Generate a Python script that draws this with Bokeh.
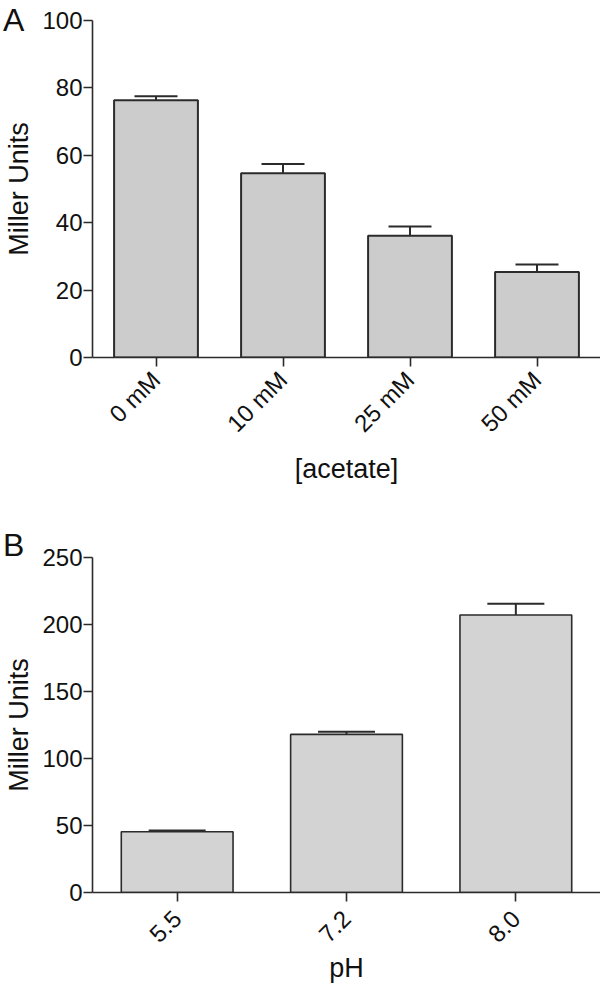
import math
from bokeh.plotting import figure
from bokeh.models import (Range1d, FactorRange, Whisker, TeeHead, ColumnDataSource,
                          FixedTicker, Div)
from bokeh.layouts import column
from bokeh.embed import file_html
from bokeh.resources import INLINE

# ---- data ----
acetate = ["0 mM", "10 mM", "25 mM", "50 mM"]
acetate_mean = [76.3, 54.7, 36.1, 25.4]
acetate_upper = [77.5, 57.4, 38.9, 27.6]
acetate_ticks = [0, 20, 40, 60, 80, 100]

ph = ["5.5", "7.2", "8.0"]
ph_mean = [45.3, 118.0, 207.1]
ph_upper = [46.3, 120.0, 215.5]
ph_ticks = [0, 50, 100, 150, 200, 250]

FONT = "Liberation Sans"
DARK = "#2b2b2b"


def panel(cats, means, uppers, ticks, xlabel, height, top, bottom,
          fill, cap_px, lw, tick_standoff, label_standoff):
    src = ColumnDataSource(dict(x=cats, mean=means, upper=uppers))
    p = figure(width=600, height=height, x_range=FactorRange(factors=cats),
               y_range=Range1d(ticks[0], ticks[-1]), output_backend="svg",
               toolbar_location=None, min_border_left=92, min_border_right=0,
               min_border_top=top, min_border_bottom=bottom)
    p.outline_line_color = None
    p.xgrid.visible = False
    p.ygrid.visible = False
    p.vbar(x="x", top="mean", bottom=0, width=0.66, source=src,
           fill_color=fill, line_color=DARK, line_width=lw)
    w = Whisker(base="x", upper="upper", lower="mean", source=src,
                dimension="height", line_color=DARK, line_width=2,
                upper_head=TeeHead(size=cap_px, line_color=DARK, line_width=2),
                lower_head=None)
    p.add_layout(w)

    for ax in (p.xaxis[0], p.yaxis[0]):
        ax.axis_line_color = DARK
        ax.axis_line_width = 1.6
        ax.major_tick_line_color = DARK
        ax.major_tick_line_width = 1.6
        ax.major_tick_out = 9
        ax.major_tick_in = 0
        ax.minor_tick_line_color = None
        ax.major_label_text_font = FONT
        ax.major_label_text_font_size = "24px"
        ax.major_label_text_color = "#111111"
        ax.axis_label_text_font = FONT
        ax.axis_label_text_font_size = "27px"
        ax.axis_label_text_font_style = "normal"
        ax.axis_label_text_color = "#111111"
    p.yaxis.ticker = FixedTicker(ticks=ticks)
    p.yaxis.major_label_standoff = 1
    p.yaxis.axis_label = "Miller Units"
    p.yaxis.axis_label_standoff = 5
    p.xaxis.axis_label = xlabel
    p.xaxis.major_label_orientation = math.pi / 4
    p.xaxis.major_label_standoff = tick_standoff
    p.xaxis.axis_label_standoff = label_standoff
    return p


def letter(text, top):
    return Div(text=text, width=30, height=38, margin=0,
               styles={"position": "absolute", "left": "3px", "top": f"{top}px",
                       "font-family": FONT, "font-size": "32px",
                       "line-height": "1.2", "color": "#111111",
                       "z-index": "10"})


pa = panel(acetate, acetate_mean, acetate_upper, acetate_ticks, "[acetate]",
           527, 20, 170, "#cccccc", 43, 2, 9, 5)
pb = panel(ph, ph_mean, ph_upper, ph_ticks, "pH",
           459, 30, 92, "#d3d3d3", 57, 1.6, 13, 0)

layout = column(pa, pb, letter("A", 1), letter("B", 526), spacing=0)
open("out.html", "w").write(file_html(layout, INLINE))
